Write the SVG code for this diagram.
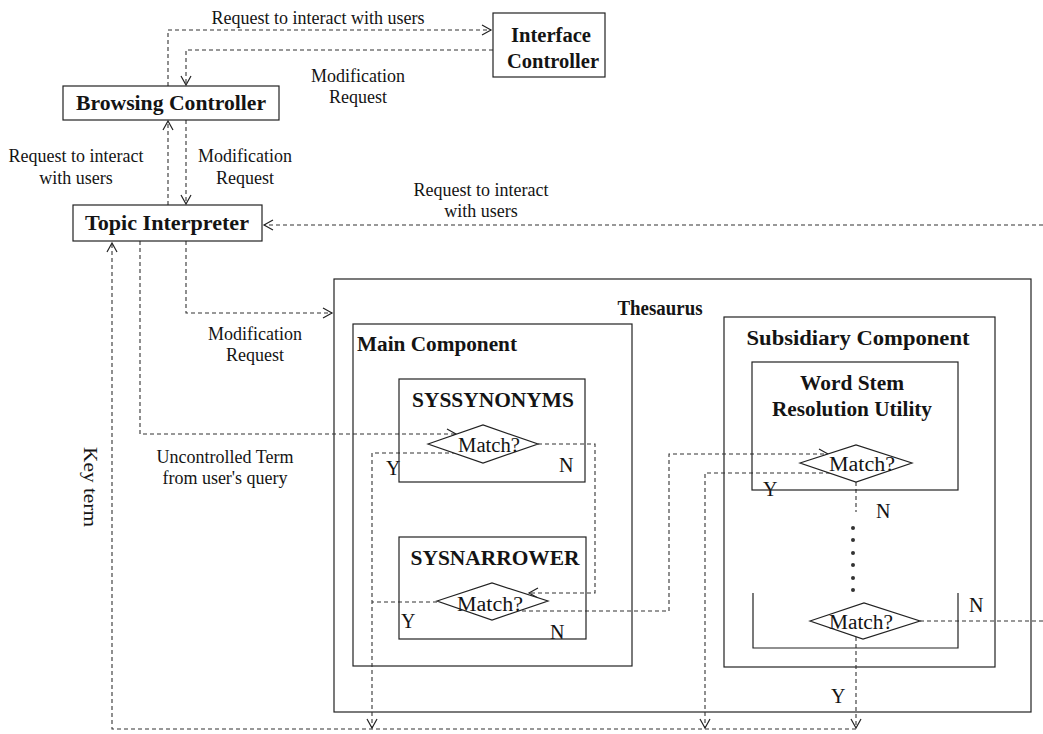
<svg xmlns="http://www.w3.org/2000/svg" width="1043" height="734" viewBox="0 0 1043 734">
  <defs>
    <style>
      .box{fill:none;stroke:#222;stroke-width:1.2}
      .dia{fill:#fff;stroke:#222;stroke-width:1.2}
      .dash{fill:none;stroke:#333;stroke-width:1.1;stroke-dasharray:4 3}
      .t{font-family:"Liberation Serif","Times New Roman",serif;fill:#141414}
      .b{font-weight:bold;font-size:20px}
      .r{font-size:18px}
      .yn{font-size:20px}
      .mt{font-size:20px}
      .dot{fill:#333}
    </style>
    <marker id="arr" viewBox="-11 -6 13 12" refX="0" refY="0" markerWidth="13" markerHeight="12" markerUnits="userSpaceOnUse" orient="auto">
      <path d="M-9,-5 L0,0 L-9,5" fill="none" stroke="#222" stroke-width="1.2"/>
    </marker>
  </defs>

  <rect width="1043" height="734" fill="#fff"/>

  <!-- containers -->
  <g id="thesaurus">
    <rect class="box" x="334" y="279" width="697" height="433"/>
    <text class="t b" x="660" y="315" text-anchor="middle" textLength="85" lengthAdjust="spacingAndGlyphs">Thesaurus</text>
  </g>
  <g id="main-component">
    <rect class="box" x="353" y="324" width="279" height="342"/>
    <text class="t b" x="357" y="351" textLength="160" lengthAdjust="spacingAndGlyphs">Main Component</text>
  </g>
  <g id="subsidiary-component">
    <rect class="box" x="724" y="317" width="271" height="350"/>
    <text class="t b" x="858" y="345" text-anchor="middle" textLength="223" lengthAdjust="spacingAndGlyphs">Subsidiary Component</text>
  </g>

  <!-- connectors -->
  <g id="connectors">
    <path class="dash" d="M168,86 V30 H491" marker-end="url(#arr)"/>
    <path class="dash" d="M493,50 H186 V85" marker-end="url(#arr)"/>
    <path class="dash" d="M168,205 V121" marker-end="url(#arr)"/>
    <path class="dash" d="M186,120 V204" marker-end="url(#arr)"/>
    <path class="dash" d="M1043,225 H264" marker-end="url(#arr)"/>
    <path class="dash" d="M140,241 V434 H456" marker-end="url(#arr)"/>
    <path class="dash" d="M186,241 V313 H332" marker-end="url(#arr)"/>
    <path class="dash" d="M456,453 H372 V728" marker-end="url(#arr)"/>
    <path class="dash" d="M538,444 H595 V593 H529" marker-end="url(#arr)"/>
    <path class="dash" d="M437,602 H372"/>
    <path class="dash" d="M522,611 H669 V454 H828" marker-end="url(#arr)"/>
    <path class="dash" d="M830,473 H705 V728" marker-end="url(#arr)"/>
    <path class="dash" d="M856,482 V512"/>
    <path class="dash" d="M920,621 H1043"/>
    <path class="dash" d="M856,637 V728" marker-end="url(#arr)"/>
    <path class="dash" d="M856,729 H112 V243" marker-end="url(#arr)"/>

    <text class="t r" x="318" y="24" text-anchor="middle">Request to interact with users</text>
    <text class="t r" x="358" y="82" text-anchor="middle">Modification</text>
    <text class="t r" x="358" y="103" text-anchor="middle">Request</text>
    <text class="t r" x="76" y="162" text-anchor="middle">Request to interact</text>
    <text class="t r" x="76" y="184" text-anchor="middle">with users</text>
    <text class="t r" x="245" y="162" text-anchor="middle">Modification</text>
    <text class="t r" x="245" y="184" text-anchor="middle">Request</text>
    <text class="t r" x="481" y="196" text-anchor="middle">Request to interact</text>
    <text class="t r" x="481" y="217" text-anchor="middle">with users</text>
    <text class="t r" x="255" y="340" text-anchor="middle">Modification</text>
    <text class="t r" x="255" y="361" text-anchor="middle">Request</text>
    <text class="t r" x="225" y="463" text-anchor="middle">Uncontrolled Term</text>
    <text class="t r" x="225" y="484" text-anchor="middle">from user's query</text>
    <text class="t r" transform="translate(84,487) rotate(90)" text-anchor="middle" font-size="20" textLength="80" lengthAdjust="spacingAndGlyphs">Key term</text>

    <text class="t yn" x="386" y="475">Y</text>
    <text class="t yn" x="559" y="472">N</text>
    <text class="t yn" x="401" y="628">Y</text>
    <text class="t yn" x="550" y="639">N</text>
    <text class="t yn" x="763" y="496">Y</text>
    <text class="t yn" x="876" y="518">N</text>
    <text class="t yn" x="969" y="612">N</text>
    <text class="t yn" x="831" y="703">Y</text>
  </g>

  <!-- nodes -->
  <g id="interface-controller">
    <rect class="box" x="493" y="13" width="112" height="64"/>
    <text class="t b" x="551" y="42" text-anchor="middle" textLength="80" lengthAdjust="spacingAndGlyphs">Interface</text>
    <text class="t b" x="553" y="68" text-anchor="middle" textLength="92" lengthAdjust="spacingAndGlyphs">Controller</text>
  </g>
  <g id="browsing-controller">
    <rect class="box" x="63" y="86" width="216" height="34"/>
    <text class="t b" x="171" y="110" text-anchor="middle" textLength="190" lengthAdjust="spacingAndGlyphs">Browsing Controller</text>
  </g>
  <g id="topic-interpreter">
    <rect class="box" x="73" y="205" width="189" height="36"/>
    <text class="t b" x="167" y="230" text-anchor="middle" textLength="164" lengthAdjust="spacingAndGlyphs">Topic Interpreter</text>
  </g>
  <g id="syssynonyms">
    <rect class="box" x="399" y="379" width="186" height="103"/>
    <text class="t b" x="493" y="407" text-anchor="middle" textLength="162" lengthAdjust="spacingAndGlyphs">SYSSYNONYMS</text>
    <polygon class="dia" points="428,444 483,425 538,444 483,463"/>
    <text class="t mt" x="489" y="452" text-anchor="middle" textLength="62" lengthAdjust="spacingAndGlyphs">Match?</text>
  </g>
  <g id="sysnarrower">
    <rect class="box" x="399" y="537" width="187" height="102"/>
    <text class="t b" x="495" y="565" text-anchor="middle" textLength="169" lengthAdjust="spacingAndGlyphs">SYSNARROWER</text>
    <polygon class="dia" points="437,601 492,583 548,601 492,620"/>
    <text class="t mt" x="490" y="611" text-anchor="middle" textLength="66" lengthAdjust="spacingAndGlyphs">Match?</text>
  </g>
  <g id="word-stem-resolution-utility">
    <rect class="box" x="752" y="362" width="206" height="128"/>
    <text class="t b" x="852" y="390" text-anchor="middle" textLength="104" lengthAdjust="spacingAndGlyphs">Word Stem</text>
    <text class="t b" x="852" y="416" text-anchor="middle" textLength="160" lengthAdjust="spacingAndGlyphs">Resolution Utility</text>
    <polygon class="dia" points="800,463 856,445 912,463 856,482"/>
    <text class="t mt" x="862" y="471" text-anchor="middle" textLength="66" lengthAdjust="spacingAndGlyphs">Match?</text>
  </g>
  <g id="further-utility">
    <path class="box" d="M753,593 V648 H958 V593"/>
    <polygon class="dia" points="810,621 864,603 920,621 863,639"/>
    <text class="t mt" x="861" y="629" text-anchor="middle" textLength="64" lengthAdjust="spacingAndGlyphs">Match?</text>
    <circle class="dot" cx="853" cy="528" r="2"/>
    <circle class="dot" cx="853" cy="540" r="2"/>
    <circle class="dot" cx="853" cy="553" r="2"/>
    <circle class="dot" cx="853" cy="565" r="2"/>
    <circle class="dot" cx="853" cy="578" r="2"/>
    <circle class="dot" cx="853" cy="590" r="2"/>
  </g>
</svg>
